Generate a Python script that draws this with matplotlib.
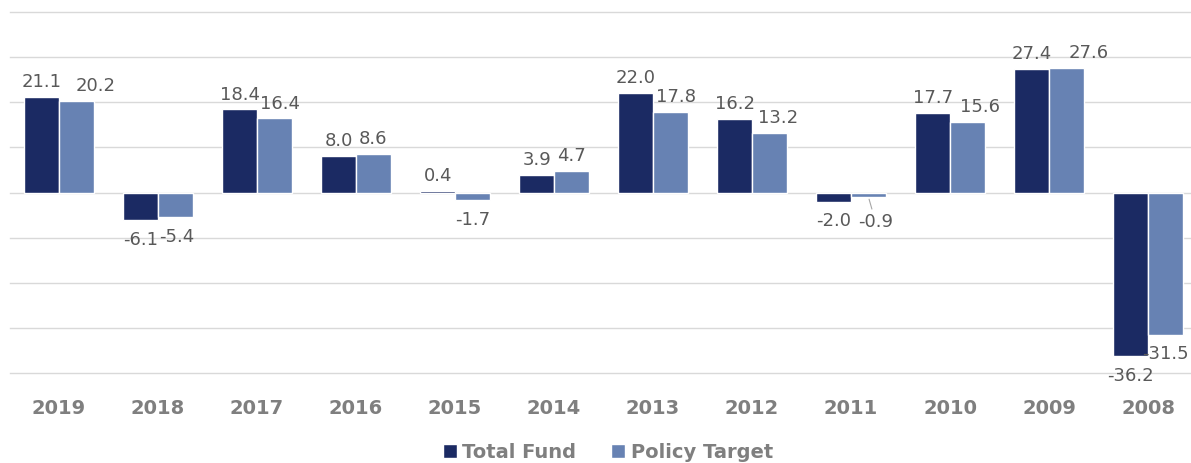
import numpy as np
import matplotlib
matplotlib.use("Agg")
import matplotlib.pyplot as plt

years = ["2019", "2018", "2017", "2016", "2015", "2014",
         "2013", "2012", "2011", "2010", "2009", "2008"]
total_fund = [21.1, -6.1, 18.4, 8.0, 0.4, 3.9, 22.0, 16.2, -2.0, 17.7, 27.4, -36.2]
policy_target = [20.2, -5.4, 16.4, 8.6, -1.7, 4.7, 17.8, 13.2, -0.9, 15.6, 27.6, -31.5]

# label nudges for the policy target labels (points), like excel's overlap shifting
pt_dx = [14, 1, 4, 0, 0, 0, 4, 6, 5, 9, 16, 0]
pt_dy = [0, 0, 0, 0, 0, 0, 0, 0, -4, 0, 0, 0]

dark = "#1b2a63"
light = "#6782b3"
grey_txt = "#595959"
tick_grey = "#7f7f7f"

fig = plt.figure(figsize=(11.91, 4.64), dpi=100)
ax = fig.add_axes([9.5 / 1191, 90 / 464, 1188 / 1191, 361 / 464])

x = np.arange(len(years))
w = 0.35
ax.bar(x - w / 2, total_fund, w, color=dark, edgecolor="white", linewidth=1.0,
       label="Total Fund", zorder=3)
ax.bar(x + w / 2, policy_target, w, color=light, edgecolor="white", linewidth=1.0,
       label="Policy Target", zorder=3)

ax.set_xlim(-0.5, len(years) - 0.5)
ax.set_ylim(-40, 40)
ax.set_yticks(np.arange(-40, 41, 10))
ax.yaxis.grid(True, color="#d9d9d9", linewidth=1.0, zorder=0)
for gl in ax.yaxis.get_gridlines():
    gl.set_clip_on(False)
ax.tick_params(axis="y", left=False, labelleft=False)
ax.tick_params(axis="x", length=0, pad=18)
ax.set_xticks(x)
ax.set_xticklabels(years, fontsize=14, fontweight="bold", color=tick_grey)
for s in ax.spines.values():
    s.set_visible(False)

def put_label(xpos, v, dx=0, dy=0, leader=False):
    off = 5 if v >= 0 else -7
    va = "bottom" if v >= 0 else "top"
    kw = {}
    if leader:
        kw["arrowprops"] = dict(arrowstyle="-", color="#a6a6a6", lw=0.8,
                                shrinkA=0, shrinkB=2)
    ax.annotate(f"{v:.1f}", xy=(xpos, v), xytext=(dx, off + dy),
                textcoords="offset points", ha="center", va=va,
                fontsize=13, color=grey_txt, **kw)

for i in range(len(years)):
    put_label(x[i] - w / 2, total_fund[i])
    put_label(x[i] + w / 2, policy_target[i], pt_dx[i], pt_dy[i],
              leader=(pt_dy[i] != 0))

fig.legend(loc="center", bbox_to_anchor=(608 / 1191, 11 / 464), ncol=2,
           frameon=False, handlelength=0.7, handleheight=0.7,
           handletextpad=0.3, columnspacing=1.8,
           prop={"weight": "bold", "size": 14}, labelcolor=tick_grey)

fig.savefig("out.png", dpi=100)
